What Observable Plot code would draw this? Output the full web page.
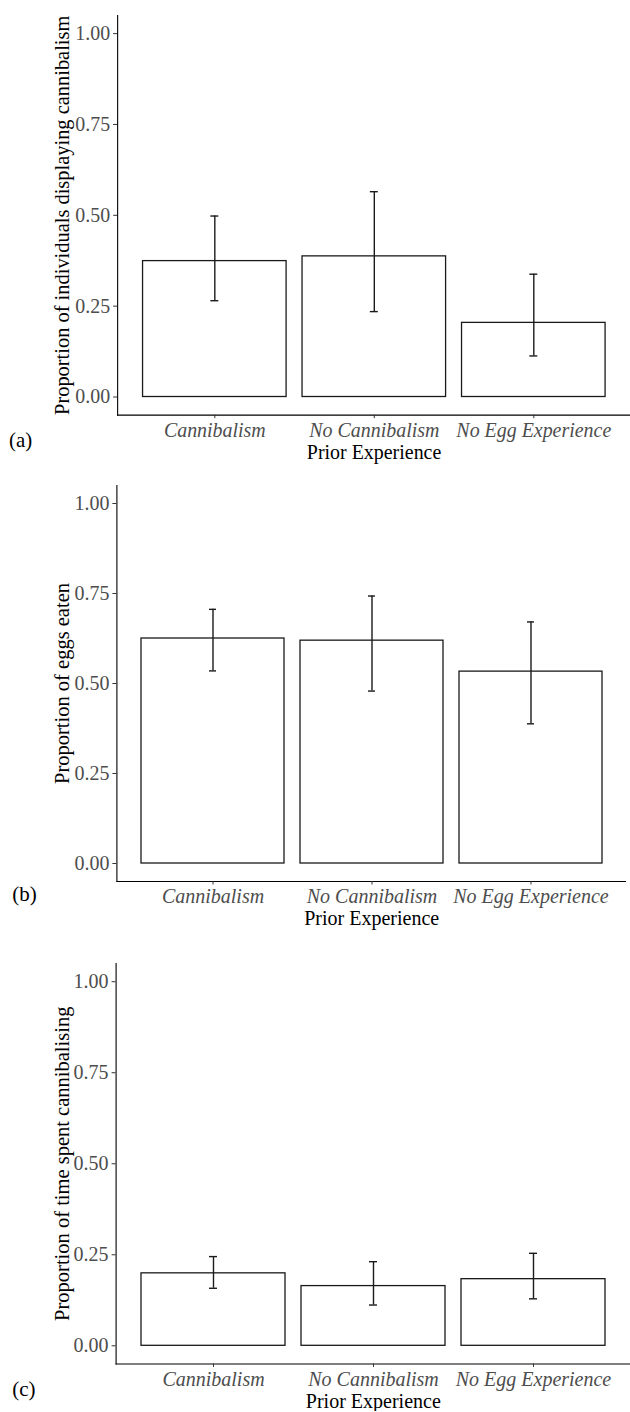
<!DOCTYPE html>
<html>
<head>
<meta charset="utf-8">
<script src="https://cdn.jsdelivr.net/npm/d3@7"></script>
<script src="https://cdn.jsdelivr.net/npm/@observablehq/plot@0.6"></script>
<style>
  html, body { margin: 0; padding: 0; background: #fff; width: 630px; height: 1412px; overflow: hidden; }
  #chart svg { display: block; }
</style>
</head>
<body>
<div id="chart"></div>
<script>
// Treatment groups (prior experience) and y-axis ticks shared by all panels
const categories = ["Cannibalism", "No Cannibalism", "No Egg Experience"];
const yTicks = [0, 0.25, 0.5, 0.75, 1];
const xTitle = "Prior Experience";

// (a) proportion of individuals displaying cannibalism
const cannibalMean = [0.374, 0.387, 0.204];
const cannibalLow = [0.265, 0.235, 0.113];
const cannibalHigh = [0.498, 0.565, 0.338];

// (b) proportion of eggs eaten
const eggsMean = [0.625, 0.619, 0.533];
const eggsLow = [0.535, 0.479, 0.388];
const eggsHigh = [0.706, 0.743, 0.671];

// (c) proportion of time spent cannibalising
const timeMean = [0.199, 0.164, 0.183];
const timeLow = [0.158, 0.112, 0.129];
const timeHigh = [0.245, 0.231, 0.254];

const panels = [
  {tag: "(a)", yTitle: "Proportion of individuals displaying cannibalism",
   mean: cannibalMean, low: cannibalLow, high: cannibalHigh,
   layout: {width: 632, height: 470, marginLeft: 117.5, marginTop: 15, marginBottom: 54},
   tagPos: {left: 8.5, base: 32}},
  {tag: "(b)", yTitle: "Proportion of eggs eaten",
   mean: eggsMean, low: eggsLow, high: eggsHigh,
   layout: {width: 626, height: 470, marginLeft: 116.4, marginTop: 16, marginBottom: 58},
   tagPos: {left: 11.7, base: 19.5}},
  {tag: "(c)", yTitle: "Proportion of time spent cannibalising",
   mean: timeMean, low: timeLow, high: timeHigh,
   layout: {width: 630, height: 472, marginLeft: 115.6, marginTop: 24, marginBottom: 47.5},
   tagPos: {left: 11.7, base: 32}}
];

const font = "'Liberation Serif', 'Times New Roman', serif";
const tickGray = "#4d4d4d";
const ink = "#1a1a1a";

for (const p of panels) {
  const rows = categories.map((c, i) => ({group: c, mean: p.mean[i], low: p.low[i], high: p.high[i]}));
  const L = p.layout;
  const chart = Plot.plot({
    width: L.width,
    height: L.height,
    marginLeft: L.marginLeft,
    marginRight: 0,
    marginTop: L.marginTop,
    marginBottom: L.marginBottom,
    style: {fontFamily: font, fontSize: "20px", background: "#fff", color: "#000"},
    x: {type: "band", domain: categories, paddingInner: 0.1, paddingOuter: 0.15, label: null},
    y: {domain: [-0.05, 1.05], label: null},
    marks: [
      // bars with standard-error whiskers
      Plot.barY(rows, {x: "group", y: "mean", fill: "white", stroke: ink, strokeWidth: 1.3}),
      Plot.ruleX(rows, {x: "group", y1: "low", y2: "high", stroke: ink, strokeWidth: 1.4}),
      Plot.tickY(rows, {x: "group", y: "high", insetLeft: 68, insetRight: 68, stroke: ink, strokeWidth: 1.4}),
      Plot.tickY(rows, {x: "group", y: "low", insetLeft: 68, insetRight: 68, stroke: ink, strokeWidth: 1.4}),
      // classic theme: only left and bottom axis lines
      Plot.frame({anchor: "left", stroke: "#000", strokeWidth: 1.1}),
      Plot.frame({anchor: "bottom", stroke: "#000", strokeWidth: 1.1}),
      Plot.axisY({ticks: yTicks, tickFormat: d3.format(".2f"), tickSize: 4, tickPadding: 3.5,
                  label: null, fill: tickGray, stroke: "#333", fontSize: 20}),
      Plot.axisX({tickSize: 3.5, tickPadding: 3.8, label: null, fill: tickGray, stroke: "#333",
                  fontSize: 20, fontStyle: "italic"}),
      // axis titles and panel tag
      Plot.text([p.yTitle], {frameAnchor: "left", rotate: -90, dx: 68.5 - L.marginLeft,
                             lineAnchor: "bottom", textAnchor: "middle", fill: "#000", fontSize: 20.5}),
      Plot.text([xTitle], {frameAnchor: "bottom", dy: 43.5, lineAnchor: "bottom",
                           textAnchor: "middle", fill: "#000", fontSize: 20}),
      Plot.text([p.tag], {frameAnchor: "bottom-left", dx: p.tagPos.left - L.marginLeft, dy: p.tagPos.base,
                          lineAnchor: "bottom", textAnchor: "start", fill: "#000", fontSize: 21})
    ]
  });
  document.getElementById("chart").appendChild(chart);
}
</script>
</body>
</html>
